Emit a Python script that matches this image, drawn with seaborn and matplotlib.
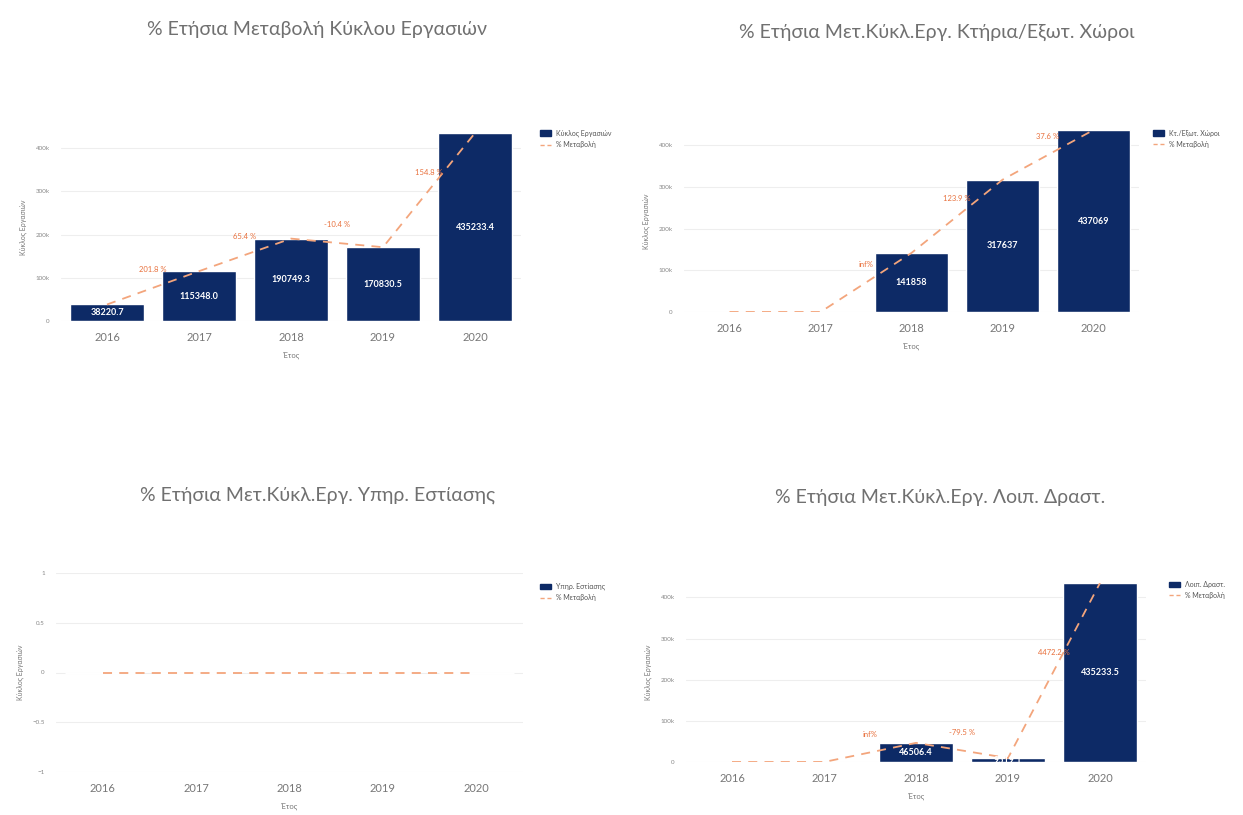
import numpy as np
import pandas as pd
import matplotlib
matplotlib.use("Agg")
import matplotlib.pyplot as plt
import seaborn as sns
from matplotlib.ticker import FuncFormatter
from matplotlib.lines import Line2D
from matplotlib.patches import Patch

sns.set_theme(style="white")
plt.rcParams['font.family'] = ['Lato', 'Noto Sans', 'DejaVu Sans']

years = ["2016", "2017", "2018", "2019", "2020"]

titles = [
    "% Ετήσια Μεταβολή Κύκλου Εργασιών",
    "% Ετήσια Μετ.Κύκλ.Εργ. Κτήρια/Εξωτ. Χώροι",
    "% Ετήσια Μετ.Κύκλ.Εργ. Υπηρ. Εστίασης",
    "% Ετήσια Μετ.Κύκλ.Εργ. Λοιπ. Δραστ.",
]
bar_names = ["Κύκλος Εργασιών", "Κτ./Εξωτ. Χώροι", "Υπηρ. Εστίασης", "Λοιπ. Δραστ."]
line_name = "% Μεταβολή"

turnover_total = [38220.7, 115348.0, 190749.3, 170830.5, 435233.4]
turnover_buildings = [0, 0, 141858, 317637, 437069]
turnover_catering = [0, 0, 0, 0, 0]
turnover_other = [0, 0, 46506.4, 9519.1, 435233.5]

series = [turnover_total, turnover_buildings, turnover_catering, turnover_other]
label_fmt = ["{:.1f}", "{:.0f}", "{:.1f}", "{:.1f}"]

NAVY = "#0d2a66"
ORANGE_LINE = "#f3a57c"
ORANGE_TXT = "#e8703c"
GREY = "#777777"

fig = plt.figure(figsize=(12.43, 8.15), dpi=100)
W, H = 1243, 815

# axes rectangles in pixel coords (left, right, top, bottom)
rects = [
    (61, 521, 133, 321),
    (684, 1139, 130, 312),
    (56, 523, 573, 772),
    (686, 1146, 583, 762),
]
title_pos = [(317, 30), (937, 32), (318, 495), (940, 497)]
legend_pos = [(537, 127), (1150, 127), (537, 580), (1166, 578)]

def kfmt(v, pos):
    if abs(v) < 1e-9:
        return "0"
    return f"{int(round(v / 1000))}k"

for idx, (vals, rect) in enumerate(zip(series, rects)):
    l, r, t, b = rect
    ax = fig.add_axes([l / W, 1 - b / H, (r - l) / W, (b - t) / H])
    df = pd.DataFrame({"year": years, "value": vals})
    sns.barplot(data=df, x="year", y="value", color=NAVY, saturation=1,
                width=0.8, ax=ax, zorder=2)
    pos = np.arange(len(years))
    sns.lineplot(x=pos, y=np.array(vals, dtype=float), ax=ax, color=ORANGE_LINE,
                 linestyle=(0, (5, 4)), linewidth=1.3, zorder=3, legend=False)

    # bar value labels
    labs = [label_fmt[idx].format(v) if v != 0 else "" for v in vals]
    ax.bar_label(ax.containers[0], labels=labs, label_type="center",
                 color="white", fontsize=6.5, fontweight="bold", zorder=4)

    # percent change labels at segment midpoints
    s = pd.Series(vals, dtype=float)
    with np.errstate(divide="ignore", invalid="ignore"):
        pct = s.pct_change() * 100
    for i in range(1, len(vals)):
        p = pct.iloc[i]
        if pd.isna(p):
            continue
        txt = f"{p:.1f} %" if np.isfinite(p) else "inf%"
        ax.annotate(txt, xy=(i - 0.5, (vals[i - 1] + vals[i]) / 2),
                    xytext=(0, 13), textcoords="offset points",
                    ha="center", va="center", fontsize=5.5, color=ORANGE_TXT, zorder=5)

    ax.set_xlim(-0.5, 4.5)
    if idx == 2:
        ax.set_ylim(-1, 1)
        ax.set_yticks([-1, -0.5, 0, 0.5, 1])
        ax.set_yticklabels(["−1", "−0.5", "0", "0.5", "1"])
    else:
        ax.set_ylim(0, max(vals))
        ax.set_yticks([0, 100000, 200000, 300000, 400000])
        ax.yaxis.set_major_formatter(FuncFormatter(kfmt))

    ax.grid(axis="y", color="#eeeeee", linewidth=0.8, zorder=0)
    ax.set_axisbelow(True)
    for sp in ax.spines.values():
        sp.set_visible(False)
    ax.tick_params(axis="y", labelsize=4.5, labelcolor="#888888", length=0, pad=8)
    ax.tick_params(axis="x", labelsize=8, labelcolor=GREY, length=0, pad=8)
    ax.set_xlabel("Έτος", fontsize=5.5, color=GREY, labelpad=6)
    ax.set_ylabel("Κύκλος Εργασιών", fontsize=5, color=GREY, labelpad=6)

    tx, ty = title_pos[idx]
    fig.text(tx / W, 1 - ty / H, titles[idx], ha="center", va="center",
             fontsize=14, color="#707070", fontweight="normal")

    handles = [Patch(facecolor=NAVY, edgecolor=NAVY),
               Line2D([0], [0], color=ORANGE_LINE, linestyle=(0, (3, 2)), linewidth=1)]
    lx, ly = legend_pos[idx]
    fig.legend(handles, [bar_names[idx], line_name], loc="upper left",
               bbox_to_anchor=(lx / W, 1 - ly / H), frameon=False, fontsize=5,
               handlelength=1.6, handleheight=0.9, labelcolor="#555555",
               borderaxespad=0, handletextpad=0.8, labelspacing=0.6)

fig.savefig("out.png", dpi=100, facecolor="white")
